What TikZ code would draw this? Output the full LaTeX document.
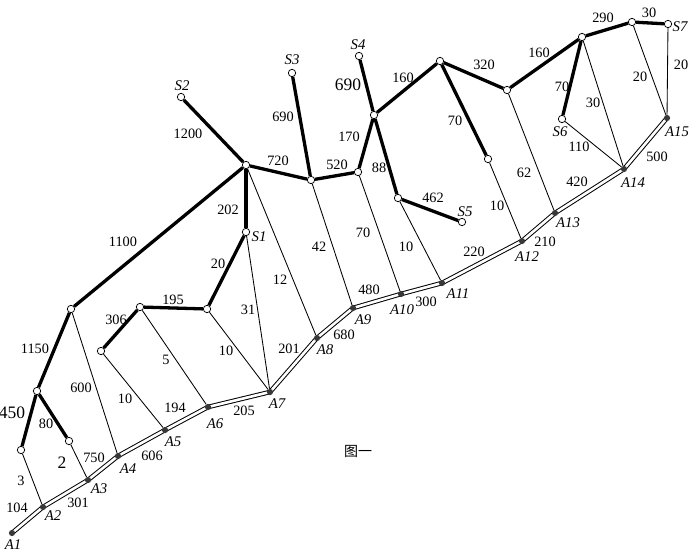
\documentclass[tikz,border=0pt]{standalone}
\usepackage{fontspec}
\setmainfont{Liberation Serif}
\newfontfamily\cjk{Noto Sans CJK SC}
\usetikzlibrary{backgrounds}
\begin{document}
\begin{tikzpicture}[x=1pt,y=-1pt,
  open/.style={circle,draw,fill=white,inner sep=0pt,minimum size=7.4pt,line width=0.75pt},
  dotnode/.style={circle,fill=black!78,inner sep=0pt,minimum size=6.2pt},
  net/.style={line width=3.3pt},
  link/.style={line width=0.85pt},
  pipe/.style={double=white,double distance=2.6pt,line width=1pt},
  num/.style={font=\fontsize{14.3}{16}\selectfont,inner sep=0pt},
  big/.style={font=\fontsize{17.5}{19}\selectfont,inner sep=0pt},
  lab/.style={font=\fontsize{14.8}{16}\selectfont\itshape,inner sep=0pt}]
\useasboundingbox (0,0) rectangle (695,557);
% pipeline nodes
\node[dotnode] (A1) at (12,533) {};
\node[dotnode] (A2) at (43,507) {};
\node[dotnode] (A3) at (88,480) {};
\node[dotnode] (A4) at (118,456) {};
\node[dotnode] (A5) at (165,430) {};
\node[dotnode] (A6) at (208,407) {};
\node[dotnode] (A7) at (270,392) {};
\node[dotnode] (A8) at (317,338) {};
\node[dotnode] (A9) at (353,308) {};
\node[dotnode] (A10) at (401,294) {};
\node[dotnode] (A11) at (442,283) {};
\node[dotnode] (A12) at (522,241) {};
\node[dotnode] (A13) at (555,213) {};
\node[dotnode] (A14) at (624,169) {};
\node[dotnode] (A15) at (667,118) {};
% network nodes
\node[open] (a) at (37,391) {};
\node[open] (b) at (21,450) {};
\node[open] (c) at (69,441) {};
\node[open] (d) at (71,309) {};
\node[open] (e) at (101,351) {};
\node[open] (f) at (140,307) {};
\node[open] (g) at (207,309) {};
\node[open] (S1) at (246,232) {};
\node[open] (h) at (246,165) {};
\node[open] (i) at (311,180) {};
\node[open] (j) at (358,172) {};
\node[open] (S2) at (181,97) {};
\node[open] (S3) at (292,73) {};
\node[open] (S4) at (359,56) {};
\node[open] (k) at (374,115) {};
\node[open] (m) at (398,198) {};
\node[open] (S5) at (462,222) {};
\node[open] (n) at (440,61) {};
\node[open] (o) at (488,159) {};
\node[open] (p) at (507,90) {};
\node[open] (S6) at (562,119) {};
\node[open] (q) at (582,37) {};
\node[open] (r) at (632,22) {};
\node[open] (S7) at (668,24) {};
\begin{scope}[on background layer]
\draw[pipe] (A1.center) -- (A2.center) -- (A3.center) -- (A4.center) -- (A5.center)
  -- (A6.center) -- (A7.center) -- (A8.center) -- (A9.center) -- (A10.center)
  -- (A11.center) -- (A12.center) -- (A13.center) -- (A14.center) -- (A15.center);
\end{scope}
% thick network edges
\draw[net] (a) -- (b);
\draw[net] (a) -- (c);
\draw[net] (a) -- (d);
\draw[net] (d) -- (h);
\draw[net] (h) -- (S2);
\draw[net] (h) -- (S1);
\draw[net] (S1) -- (g);
\draw[net] (g) -- (f);
\draw[net] (f) -- (e);
\draw[net] (h) -- (i);
\draw[net] (i) -- (S3);
\draw[net] (i) -- (j);
\draw[net] (j) -- (k);
\draw[net] (k) -- (S4);
\draw[net] (k) -- (m);
\draw[net] (m) -- (S5);
\draw[net] (k) -- (n);
\draw[net] (n) -- (o);
\draw[net] (n) -- (p);
\draw[net] (p) -- (q);
\draw[net] (q) -- (S6);
\draw[net] (q) -- (r);
\draw[net] (r) -- (S7);
% thin links
\draw[link] (b) -- (A2);
\draw[link] (c) -- (A3);
\draw[link] (d) -- (A4);
\draw[link] (e) -- (A5);
\draw[link] (f) -- (A6);
\draw[link] (g) -- (A7);
\draw[link] (S1) -- (A7);
\draw[link] (h) -- (A8);
\draw[link] (i) -- (A9);
\draw[link] (j) -- (A10);
\draw[link] (m) -- (A11);
\draw[link] (o) -- (A12);
\draw[link] (p) -- (A13);
\draw[link] (S6) -- (A14);
\draw[link] (q) -- (A14);
\draw[link] (r) -- (A15);
\draw[link] (S7) -- (A15);
% numbers
\node[big] (t450) at (12,413) {450};
\node[num] (t80) at (46,424) {80};
\node[num] (t3) at (21,481) {3};
\node[big] (t2) at (62,463) {2};
\node[num] (t104) at (17,508) {104};
\node[num] (t301) at (78,503) {301};
\node[num] (t750) at (94,458) {750};
\node[num] (t606) at (152,456) {606};
\node[num] (t194) at (175,408) {194};
\node[num] (t10a) at (125,399) {10};
\node[num] (t600) at (81,388) {600};
\node[num] (t1150) at (35,349) {1150};
\node[num] (t306) at (116,320) {306};
\node[num] (t195) at (173,300) {195};
\node[num] (t5) at (166,360) {5};
\node[num] (t10b) at (226,351) {10};
\node[num] (t31) at (248,310) {31};
\node[num] (t205) at (244,411) {205};
\node[num] (t12) at (280,280) {12};
\node[num] (t20a) at (218,264) {20};
\node[num] (t202) at (228,210) {202};
\node[num] (t720) at (278,161) {720};
\node[num] (t520) at (337,165) {520};
\node[num] (t42) at (319,247) {42};
\node[num] (t201) at (289,349) {201};
\node[num] (t680) at (344,335) {680};
\node[num] (t480) at (369,290) {480};
\node[num] (t300) at (426,302) {300};
\node[num] (t70a) at (363,233) {70};
\node[num] (t10c) at (406,247) {10};
\node[num] (t220) at (474,252) {220};
\node[num] (t462) at (433,198) {462};
\node[num] (t88) at (379,168) {88};
\node[num] (t170) at (349,137) {170};
\node[big] (t690a) at (348,85) {690};
\node[num] (t690b) at (283,117) {690};
\node[num] (t1200) at (188,134) {1200};
\node[num] (t1100) at (123,242) {1100};
\node[num] (t160a) at (403,78) {160};
\node[num] (t70b) at (455,121) {70};
\node[num] (t320) at (484,65) {320};
\node[num] (t160b) at (539,53) {160};
\node[num] (t70c) at (562,87) {70};
\node[num] (t62) at (524,173) {62};
\node[num] (t10d) at (497,206) {10};
\node[num] (t210) at (545,242) {210};
\node[num] (t420) at (577,182) {420};
\node[num] (t110) at (579,147) {110};
\node[num] (t30a) at (593,103) {30};
\node[num] (t20b) at (640,77) {20};
\node[num] (t20c) at (681,65) {20};
\node[num] (t290) at (603,18) {290};
\node[num] (t30b) at (649,13) {30};
\node[num] (t500) at (657,157) {500};
% node labels
\node[lab] (lS1) at (259,237) {S1};
\node[lab] (lS2) at (182,86) {S2};
\node[lab] (lS3) at (292,60) {S3};
\node[lab] (lS4) at (358,45) {S4};
\node[lab] (lS5) at (465,212) {S5};
\node[lab] (lS6) at (560,132) {S6};
\node[lab] (lS7) at (680,27) {S7};
\node[lab] (lA1) at (13,545) {A1};
\node[lab] (lA2) at (53,516) {A2};
\node[lab] (lA3) at (99,489) {A3};
\node[lab] (lA4) at (128,469) {A4};
\node[lab] (lA5) at (173,442) {A5};
\node[lab] (lA6) at (215,424) {A6};
\node[lab] (lA7) at (277,404) {A7};
\node[lab] (lA8) at (325,350) {A8};
\node[lab] (lA9) at (363,320) {A9};
\node[lab] (lA10) at (402,310) {A10};
\node[lab] (lA11) at (458,294) {A11};
\node[lab] (lA12) at (527,257) {A12};
\node[lab] (lA13) at (568,223) {A13};
\node[lab] (lA14) at (633,183) {A14};
\node[lab] (lA15) at (677,132) {A15};
\node[font=\cjk\fontsize{14}{16}\selectfont,inner sep=0pt] (title) at (358,451) {图一};
\end{tikzpicture}
\end{document}
